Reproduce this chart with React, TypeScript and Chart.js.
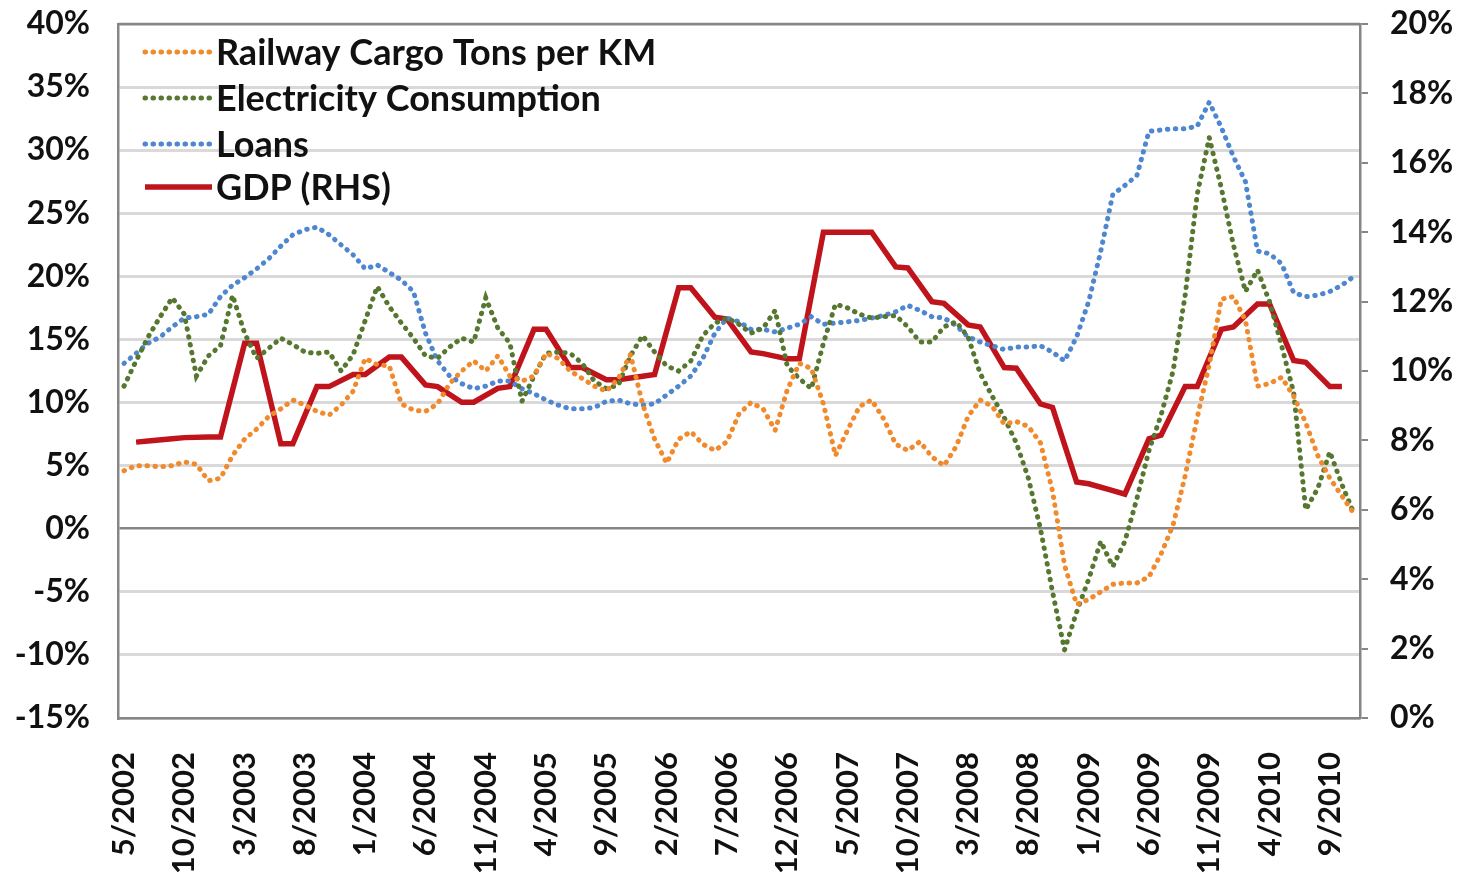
import React, { useEffect, useRef } from "react";
import { Chart, registerables } from "chart.js";

Chart.register(...registerables);

const months: string[] = [
  "5/2002","6/2002","7/2002","8/2002","9/2002","10/2002","11/2002","12/2002",
  "1/2003","2/2003","3/2003","4/2003","5/2003","6/2003","7/2003","8/2003","9/2003","10/2003","11/2003","12/2003",
  "1/2004","2/2004","3/2004","4/2004","5/2004","6/2004","7/2004","8/2004","9/2004","10/2004","11/2004","12/2004",
  "1/2005","2/2005","3/2005","4/2005","5/2005","6/2005","7/2005","8/2005","9/2005","10/2005","11/2005","12/2005",
  "1/2006","2/2006","3/2006","4/2006","5/2006","6/2006","7/2006","8/2006","9/2006","10/2006","11/2006","12/2006",
  "1/2007","2/2007","3/2007","4/2007","5/2007","6/2007","7/2007","8/2007","9/2007","10/2007","11/2007","12/2007",
  "1/2008","2/2008","3/2008","4/2008","5/2008","6/2008","7/2008","8/2008","9/2008","10/2008","11/2008","12/2008",
  "1/2009","2/2009","3/2009","4/2009","5/2009","6/2009","7/2009","8/2009","9/2009","10/2009","11/2009","12/2009",
  "1/2010","2/2010","3/2010","4/2010","5/2010","6/2010","7/2010","8/2010","9/2010","10/2010","11/2010",
];

const railway: number[] = [
  4.6, 5.0, 5.0, 4.9, 5.0, 5.3, 5.1, 3.8, 4.0, 5.8,
  7.1, 7.9, 8.9, 9.5, 10.2, 9.8, 9.3, 9.0, 9.8, 10.9,
  13.5, 13.0, 12.9, 9.9, 9.4, 9.3, 9.9, 11.5, 12.5, 13.3,
  12.5, 13.7, 12.1, 11.7, 12.1, 13.9, 13.5, 12.5, 11.9, 11.3,
  10.9, 11.9, 13.8, 9.9, 7.1, 5.2, 7.1, 7.7, 6.7, 6.2,
  6.9, 9.1, 10.0, 9.5, 7.8, 11.0, 13.1, 12.7, 9.9, 5.8,
  7.8, 9.7, 10.2, 8.7, 6.7, 6.2, 6.9, 5.7, 5.0, 6.5,
  8.9, 10.2, 9.7, 8.3, 8.5, 8.1, 6.8, 3.0, -2.9, -6.0,
  -5.6, -5.0, -4.4, -4.3, -4.3, -3.8, -2.0, 0.3, 4.2, 8.8,
  13.0, 18.2, 18.4, 16.5, 11.3, 11.5, 12.0, 10.5, 8.4, 5.8,
  4.0, 2.6, 1.2,
];

const electricity: number[] = [
  11.3, 13.3, 15.2, 16.8, 18.3, 17.0, 12.1, 13.7, 14.5, 18.5,
  15.5, 13.5, 14.3, 15.1, 14.6, 14.0, 13.9, 14.0, 12.5, 13.8,
  16.5, 19.2, 17.6, 16.3, 15.1, 13.7, 13.5, 14.4, 15.1, 14.8,
  18.3, 15.9, 14.7, 10.1, 12.1, 13.9, 14.0, 13.9, 13.1, 11.7,
  11.1, 11.4, 13.7, 15.3, 14.0, 12.9, 12.5, 13.3, 15.3, 16.3,
  16.7, 16.2, 15.5, 15.9, 17.3, 12.9, 11.9, 11.1, 14.7, 17.8,
  17.5, 17.0, 16.7, 16.8, 16.9, 16.0, 14.8, 14.8, 16.0, 16.4,
  15.2, 12.3, 10.5, 8.8, 6.8, 4.0, 0.0, -5.0, -9.6, -6.6,
  -4.0, -1.0, -3.0, -1.0, 2.4, 6.2, 9.0, 12.5, 18.5, 26.5,
  31.0, 27.0, 22.5, 18.8, 20.5, 18.0, 14.5, 10.8, 1.5, 3.2,
  6.1, 3.5, 1.2,
];

const loans: number[] = [
  13.1, 13.9, 14.7, 15.2, 16.0, 16.7, 16.8, 17.0, 18.4, 19.3,
  19.9, 20.6, 21.4, 22.4, 23.3, 23.7, 23.9, 23.3, 22.5, 21.7,
  20.6, 20.9, 20.3, 19.7, 18.8, 15.5, 13.3, 12.1, 11.5, 11.1,
  11.3, 11.7, 11.7, 11.1, 10.7, 10.2, 9.8, 9.5, 9.5, 9.6,
  10.1, 10.2, 9.9, 9.8, 9.9, 10.6, 11.3, 12.1, 13.5, 15.5,
  16.7, 16.4, 15.8, 15.8, 15.6, 15.9, 16.2, 16.8, 16.2, 16.3,
  16.4, 16.5, 16.7, 16.9, 17.2, 17.7, 17.3, 16.8, 16.7, 16.1,
  15.2, 14.8, 14.5, 14.2, 14.4, 14.4, 14.5, 14.0, 13.3, 15.2,
  18.0, 22.0, 26.5, 27.2, 28.0, 31.5, 31.6, 31.7, 31.7, 31.9,
  33.8, 31.8, 29.5, 27.5, 22.0, 21.8, 21.0, 18.7, 18.4, 18.5,
  18.8, 19.3, 20.0,
];

const gdp: (number | null)[] = [
  null, 7.95, 7.98, null, 8.05, 8.08, null, 8.1, 8.1, null,
  10.8, 10.8, null, 7.9, 7.9, null, 9.55, 9.55, null, 9.9,
  9.9, null, 10.4, 10.4, null, 9.6, 9.55, null, 9.1, 9.1,
  null, 9.5, 9.55, null, 11.2, 11.2, null, 10.1, 10.1, null,
  9.75, 9.75, null, 9.85, 9.9, null, 12.4, 12.4, null, 11.55,
  11.5, null, 10.55, 10.5, null, 10.35, 10.35, null, 14.0, 14.0,
  null, 14.0, 14.0, null, 13.0, 12.97, null, 12.0, 11.95, null,
  11.33, 11.27, null, 10.1, 10.08, null, 9.05, 8.95, null, 6.8,
  6.75, null, 6.55, 6.45, null, 8.05, 8.15, null, 9.55, 9.55,
  null, 11.2, 11.27, null, 11.93, 11.93, null, 10.3, 10.25, null,
  9.55, 9.55, null,
];

const seriesNames = ["Railway Cargo Tons per KM", "Electricity Consumption", "Loans", "GDP (RHS)"];
const leftTicks = { min: -15, max: 40, step: 5 };
const rightTicks = { min: 0, max: 20, step: 2 };
const labelEvery = 5;

const FONT = "Lato, 'Open Sans', sans-serif";
const AXIS_GREY = "#868686";

const plotBorder = {
  id: "plotBorder",
  beforeDatasetsDraw(chart: any) {
    const { ctx, chartArea: a } = chart;
    ctx.save();
    ctx.strokeStyle = AXIS_GREY;
    ctx.lineWidth = 2.5;
    ctx.beginPath();
    ctx.moveTo(a.left, a.top);
    ctx.lineTo(a.right, a.top);
    ctx.stroke();
    ctx.restore();
  },
};

const insideLegend = {
  id: "insideLegend",
  afterDatasetsDraw(chart: any) {
    const { ctx, chartArea: a } = chart;
    ctx.save();
    const rows = [52, 98, 144, 187];
    chart.data.datasets.forEach((ds: any, i: number) => {
      const y = rows[i];
      const x0 = a.left + 27;
      const x1 = a.left + 94;
      ctx.strokeStyle = ds.borderColor;
      ctx.lineWidth = ds.borderWidth;
      ctx.lineCap = ds.borderCapStyle || "butt";
      ctx.setLineDash(ds.borderDash || []);
      ctx.beginPath();
      ctx.moveTo(x0, y);
      ctx.lineTo(x1, y);
      ctx.stroke();
      ctx.setLineDash([]);
      ctx.fillStyle = "#111";
      ctx.font = `bold 36px ${FONT}`;
      ctx.textBaseline = "middle";
      ctx.textAlign = "left";
      ctx.fillText(ds.label, x1 + 4, y + 1);
    });
    ctx.restore();
  },
};

export default function App() {
  const ref = useRef<HTMLCanvasElement | null>(null);
  useEffect(() => {
    if (!ref.current) return;
    document.body.style.margin = "0";
    const dotted = { borderDash: [0.5, 7.5], borderCapStyle: "round", borderWidth: 5 };
    const chart = new Chart(ref.current, {
      type: "line",
      data: {
        labels: months,
        datasets: [
          { label: seriesNames[0], data: railway, borderColor: "#F08A2C", yAxisID: "y", ...dotted },
          { label: seriesNames[1], data: electricity, borderColor: "#56772F", yAxisID: "y", ...dotted },
          { label: seriesNames[2], data: loans, borderColor: "#4F86D0", yAxisID: "y", ...dotted },
          { label: seriesNames[3], data: gdp, borderColor: "#C0141C", borderWidth: 5.5, yAxisID: "y1", spanGaps: true, borderCapStyle: "butt" },
        ] as any,
      },
      options: {
        animation: false,
        responsive: false,
        events: [],
        layout: { padding: { top: 24, left: 0, right: 0, bottom: 0 } },
        elements: { point: { radius: 0 }, line: { tension: 0, borderJoinStyle: "miter" } },
        plugins: { legend: { display: false }, tooltip: { enabled: false }, title: { display: false } },
        scales: {
          x: {
            type: "category",
            offset: true,
            grid: { display: false, drawTicks: false },
            border: { display: true, color: AXIS_GREY, width: 2.5 },
            ticks: {
              autoSkip: false,
              maxRotation: 90,
              minRotation: 90,
              padding: 34,
              color: "#111",
              font: { family: FONT, weight: "bold", size: 31 },
              callback: (_v: any, i: number) => (i % labelEvery === 0 ? months[i] : ""),
            },
            afterFit: (s: any) => { s.height = 154; s.paddingLeft = 0; s.paddingRight = 0; },
          },
          y: {
            position: "left",
            min: leftTicks.min,
            max: leftTicks.max,
            ticks: {
              stepSize: leftTicks.step,
              padding: 28,
              color: "#111",
              font: { family: FONT, weight: "bold", size: 32 },
              callback: (v: any) => `${v}%`,
            },
            grid: {
              drawTicks: false,
              color: (c: any) => (c.tick && c.tick.value === 0 ? AXIS_GREY : "#D9D9D9"),
              lineWidth: (c: any) => (c.tick && c.tick.value === 0 ? 2.5 : 3),
            },
            border: { display: true, color: AXIS_GREY, width: 2.5 },
            afterFit: (s: any) => { s.width = 118; s.paddingTop = 0; s.paddingBottom = 0; },
          },
          y1: {
            position: "right",
            min: rightTicks.min,
            max: rightTicks.max,
            ticks: {
              stepSize: rightTicks.step,
              padding: 22,
              color: "#111",
              font: { family: FONT, weight: "bold", size: 32 },
              callback: (v: any) => `${v}%`,
            },
            grid: { drawOnChartArea: false, drawTicks: true, tickLength: 8, color: AXIS_GREY, lineWidth: 2 },
            border: { display: true, color: AXIS_GREY, width: 2.5 },
            afterFit: (s: any) => { s.width = 100; s.paddingTop = 0; s.paddingBottom = 0; },
          },
        },
      } as any,
      plugins: [plotBorder, insideLegend],
    });
    return () => chart.destroy();
  }, []);
  return (
    <div style={{ position: "absolute", left: 0, top: 0, width: 1460, height: 872, background: "#fff" }}>
      <canvas ref={ref} width={1460} height={872} style={{ display: "block" }} />
    </div>
  );
}
